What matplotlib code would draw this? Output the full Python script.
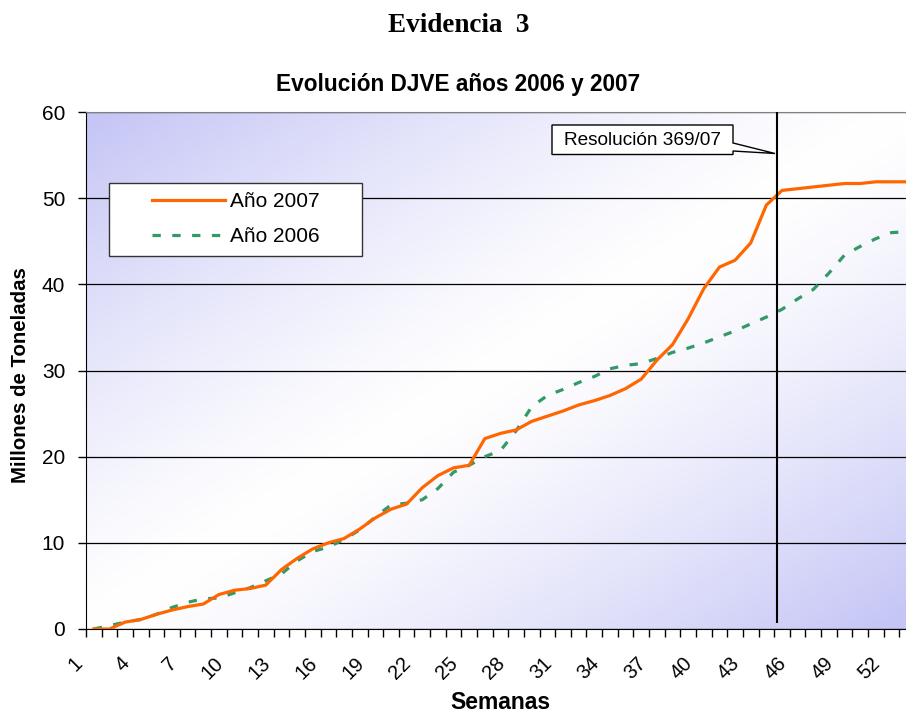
import matplotlib.pyplot as plt
import matplotlib.transforms as mtransforms
from matplotlib.patches import Rectangle, Polygon
import numpy as np

plt.rcParams["font.family"] = ["Liberation Sans", "DejaVu Sans"]

# datos (millones de toneladas, acumulado por semana)
semanas = np.arange(1, 54)
anio_2007 = [0.0, 0.0, 0.8, 1.1, 1.7, 2.2, 2.6, 2.9, 4.0, 4.5,
             4.7, 5.1, 6.9, 8.2, 9.3, 10.0, 10.5, 11.6, 12.9, 13.9,
             14.5, 16.4, 17.8, 18.7, 19.0, 22.1, 22.7, 23.1, 24.1, 24.7,
             25.3, 26.0, 26.5, 27.1, 27.9, 29.0, 31.2, 33.0, 36.0, 39.5,
             42.0, 42.8, 44.8, 49.2, 50.9, 51.1, 51.3, 51.5, 51.7, 51.7,
             51.9, 51.9, 51.9]
anio_2006 = [0.0, 0.4, 0.8, 1.1, 1.7, 2.5, 3.1, 3.5, 3.6, 4.2,
             4.8, 5.6, 6.4, 7.9, 9.0, 9.5, 10.4, 11.5, 13.0, 14.4,
             14.6, 15.0, 16.3, 18.2, 19.0, 20.0, 20.7, 23.0, 25.8, 27.1,
             27.8, 28.6, 29.3, 30.2, 30.6, 30.8, 31.4, 32.1, 32.6, 33.2,
             33.9, 34.6, 35.4, 36.2, 37.1, 38.3, 39.4, 41.3, 43.4, 44.4,
             45.3, 46.0, 46.1]
tick_semanas = list(range(1, 53, 3))
resolucion_semana = 44.7
resolucion_texto = "Resolución 369/07"

naranja = "#FF6600"
verde = "#339966"

fig = plt.figure(figsize=(9.06, 7.15), dpi=100)
W, H = 906, 715
ax = fig.add_axes([86 / W, 1 - 629 / H, 820 / W, 517 / H])

# fondo con degrade diagonal (esquinas azuladas, centro blanco)
n = 300
u, v = np.meshgrid(np.linspace(0, 1, n), np.linspace(0, 1, n))
t = np.clip(np.abs(u + v - 1), 0, 1) ** 1.3
esquina = np.array([196, 196, 246]) / 255
img = np.ones((n, n, 3)) * (1 - t[..., None]) + esquina * t[..., None]
ax.imshow(img, extent=[0, 1, 0, 1], transform=ax.transAxes, aspect="auto",
          zorder=0, interpolation="bilinear")

ax.plot(semanas, anio_2007, color=naranja, lw=2.3, label="Año 2007",
        zorder=4, solid_joinstyle="round")
ax.plot(semanas, anio_2006, color=verde, lw=2.3, ls=(0, (2.6, 3.6)),
        label="Año 2006", zorder=3)

ax.set_xlim(0.5, 0.5 + 820 / 15.64)
ax.set_ylim(0, 60)

# lineas de division
ax.set_yticks(range(0, 61, 10))
ax.grid(axis="y", color="black", lw=0.9, zorder=1)
ax.set_axisbelow(True)
ax.spines["right"].set_visible(False)
ax.spines["top"].set_color("#808080")
ax.spines["left"].set_color("black")
ax.spines["bottom"].set_color("black")

ax.tick_params(axis="y", direction="out", length=6, width=1, pad=9,
               labelsize=15)
ax.set_xticks(tick_semanas)
ax.set_xticklabels([str(s) for s in tick_semanas], rotation=45,
                   rotation_mode="anchor", ha="right", va="center")
ax.set_xticks(np.arange(0.5, 53.5, 1), minor=True)
ax.tick_params(axis="x", which="major", length=0, pad=0, labelsize=14.5)
ax.tick_params(axis="x", which="minor", direction="out", length=6, width=1)
off = mtransforms.ScaledTranslation(-14 / 100, -31 / 100, fig.dpi_scale_trans)
for lab in ax.get_xticklabels():
    lab.set_transform(lab.get_transform() + off)

ax.set_xlabel("Semanas", fontsize=16.5, fontweight="bold")
ax.xaxis.set_label_coords((500 - 86) / 820, (629 - 691) / 517)
ax.set_ylabel("Millones de Toneladas", fontsize=14.7, fontweight="bold")
ax.yaxis.set_label_coords((30 - 86) / 820, (629 - 375) / 517)

# linea vertical de la resolucion
ax.vlines(resolucion_semana, 0.7, 60, color="black", lw=1.5, zorder=5)

# globo de la resolucion (coordenadas en pixeles de la figura)
px = mtransforms.Affine2D().scale(1 / W, -1 / H).translate(0, 1) + fig.transFigure
globo = [(552, 125), (733, 125), (733, 143), (775, 153.5), (733, 151),
         (733, 154.5), (552, 154.5)]
ax.add_patch(Polygon(globo, closed=True, transform=px, fc="white",
                     ec="black", lw=1, zorder=6, clip_on=False))
fig.text(642 / W, 1 - 140.5 / H, resolucion_texto, fontsize=13.7,
         ha="center", va="center", zorder=7)

# leyenda
ax.add_patch(Rectangle((109 / W, 1 - 256 / H), 253 / W, 73 / H,
                       transform=fig.transFigure, fc="white",
                       ec="#333333", lw=1, zorder=6, clip_on=False))
leg = ax.legend(loc="center", bbox_to_anchor=(236 / W, 1 - 219 / H),
                bbox_transform=fig.transFigure, frameon=False, fontsize=15,
                handlelength=3.5, handletextpad=0.25, labelspacing=0.75,
                borderpad=0)
leg.set_zorder(7)

fig.text(459 / W, 1 - 25 / H, "Evidencia  3", family="Liberation Serif",
         fontweight="bold", fontsize=19.5, ha="center", va="center")
fig.text(458 / W, 1 - 84 / H, "Evolución DJVE años 2006 y 2007",
         fontweight="bold", fontsize=16.3, ha="center", va="center")

fig.savefig("out.png", dpi=100)
